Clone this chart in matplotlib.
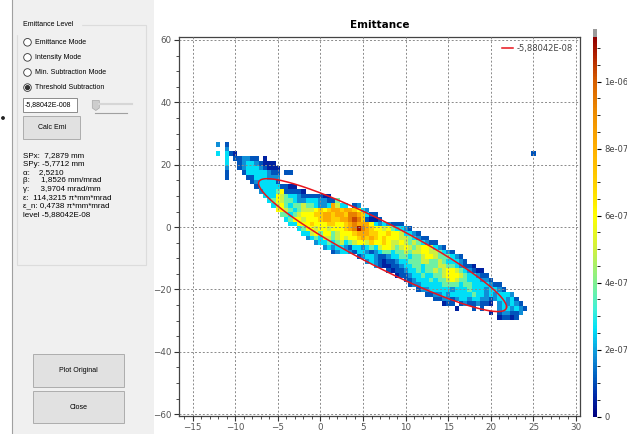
import numpy as np
import matplotlib.pyplot as plt
from matplotlib.colors import LinearSegmentedColormap
from matplotlib.patches import Rectangle, Circle, Polygon
from matplotlib.ticker import MultipleLocator

plt.rcParams['font.family'] = 'DejaVu Sans'

# beam parameters from the emittance fit
spx, spy = 7.2879, -5.7712
alpha, beta, gamma = 2.5210, 1.8526, 3.9704
eps, eps_n = 114.3215, 0.4738
level_text = '-5,88042E-08'

# phase space histogram, x in mm and x' in mrad
x_first, dx = -12.0, 0.5
xp_first, dxp = 26.5, 1.5
n_rows, n_cols = 39, 75

# intensity of each level character
level_values = {'0': 0.5e-7, '1': 1.1e-7, '2': 1.8e-7, '3': 2.6e-7,
                '4': 3.8e-7, '5': 5.0e-7, '6': 6.0e-7, '7': 7.0e-7,
                '8': 8.2e-7, '9': 9.3e-7, 'a': 10.3e-7, 'b': 11.0e-7}

# one entry per run of cells: row, first column, levels ('.' = empty)
row_idx = [0, 1, 2, 2, 3, 4, 5, 6, 7, 8, 9, 10, 11, 12, 13, 14, 15, 16, 17,
           18, 19, 20, 21, 22, 23, 24, 25, 26, 27, 28, 29, 30, 31, 32, 33,
           34, 35, 36, 37]
col_start = [0, 2, 0, 74, 2, 2, 2, 2, 2, 8, 9, 10, 11, 12, 13, 14, 15, 16,
             17, 19, 20, 21, 23, 25, 27, 33, 35, 37, 40, 42, 44, 45, 47, 49,
             51, 53, 56, 64, 66]
cells = [
    "2.1",
    "2",
    "3.310",
    "1",
    "3.112211.0",
    "3..123321000",
    "2..1233321000",
    "1...133333211.11",
    "1....11333222",
    "1233331",
    "1333331100",
    "23334611110",
    "3336543321111100",
    "34654432233322114",
    "356434454432238533.12",
    "6654345556767887887632",
    "44345666778878879987311",
    "3466566678877889a971001",
    "336667666776678988863232111",
    "34665665666789b987665643321",
    "3356466456667888776676653321",
    "23435545656678787676665543211",
    "23343453456657667655654543211",
    "23233213323435665456545665321",
    "12332133212344344545566554321",
    "1233211233443445665444321",
    "232101123344455445433321",
    "210011233443444554432110",
    "10112334344545665432100",
    "0112334334456665433211",
    "112333434456544333221",
    "1223333344443443333211",
    "122333332333433323321",
    "112232333334332323332",
    "11221233233221233231",
    "011.12112110.232321",
    "0...1.1...2332321",
    "0.122112",
    "01101",
]

vmax = 1.133e-6
cbar_ticks = [0, 2e-7, 4e-7, 6e-7, 8e-7, 1e-6]
cbar_labels = ['0', '2e-07', '4e-07', '6e-07', '8e-07', '1e-06']

# colour scale nodes, values in units of 1e-7
cmap_nodes = [(0.0, '#000080'), (0.6, '#0028a8'), (1.2, '#0060c0'),
              (1.8, '#1090d8'), (2.6, '#00e0f8'), (3.2, '#40f0d8'),
              (4.0, '#80f090'), (5.0, '#d0f040'), (6.0, '#ffff00'),
              (7.0, '#ffd000'), (8.0, '#ffb000'), (9.0, '#f09000'),
              (10.0, '#d86000'), (10.8, '#b02000'), (11.33, '#900000')]

mode_labels = ['Emittance Mode', 'Intensity Mode', 'Min. Subtraction Mode',
               'Threshold Subtraction']
selected_mode = 3


def fmt(v, nd=4):
    return f'{v:.{nd}f}'.replace('.', ',')


# build the intensity grid
grid = np.full((n_rows, n_cols), np.nan)
for r, c0, run in zip(row_idx, col_start, cells):
    for k, ch in enumerate(run):
        if ch != '.':
            grid[r, c0 + k] = level_values[ch]
x_edges = x_first - dx / 2 + dx * np.arange(n_cols + 1)
xp_edges = xp_first + dxp / 2 - dxp * np.arange(n_rows + 1)

cmap = LinearSegmentedColormap.from_list(
    'emi', [(v / cmap_nodes[-1][0], c) for v, c in cmap_nodes])
cmap.set_over('#9a9a9a')

fig = plt.figure(figsize=(6.27, 4.34), dpi=100)

# ---- control panel on the left (pixel coordinates) ----
gui = fig.add_axes([0, 0, 1, 1], zorder=0)
gui.set_xlim(0, 627)
gui.set_ylim(434, 0)
gui.axis('off')
gui.add_patch(Rectangle((12, 0), 142, 434, facecolor='#f0f0f0', edgecolor='none'))
gui.plot([12, 12], [0, 434], color='#a0a0a0', lw=0.8)
gui.add_patch(Circle((3, 118), 1.2, color='#222222'))

gui_font = 'Liberation Sans'
gui.add_patch(Rectangle((17, 25), 129, 240, facecolor='none',
                        edgecolor='#dcdcdc', lw=0.8))
gui.text(21, 25, ' Emittance Level ', fontsize=5, family=gui_font,
         va='center', ha='left', backgroundcolor='#f0f0f0')

for k, lab in enumerate(mode_labels):
    yc = 42.3 + 15.1 * k
    gui.add_patch(Circle((27.5, yc), 3.8, facecolor='white',
                         edgecolor='#333333', lw=0.6))
    if k == selected_mode:
        gui.add_patch(Circle((27.5, yc), 1.9, color='#333333'))
    gui.text(35, yc, lab, fontsize=5, family=gui_font, va='center')

# threshold text box and slider
gui.add_patch(Rectangle((23.3, 97.7), 53.4, 14, facecolor='white',
                        edgecolor='#7a7a7a', lw=0.6))
gui.text(24.5, 104.7, '-5,88042E-008', fontsize=5, family=gui_font, va='center')
gui.plot([99, 131.7], [104, 104], color='#d6d6d6', lw=1.5)
gui.plot([95, 126.7], [113.3, 113.3], color='#a0a0a0', lw=0.8)
gui.add_patch(Polygon([(92.3, 100.5), (99.3, 100.5), (99.3, 108),
                       (95.8, 110.5), (92.3, 108)], closed=True,
                      facecolor='#cdcdcd', edgecolor='#a8a8a8', lw=0.5))

buttons = [((23.3, 116, 56.7, 23.3), 'Calc Emi'),
           ((33.3, 354, 90.7, 32.7), 'Plot Original'),
           ((33.3, 390.7, 90.7, 32.7), 'Close')]
for (bx, by, bw, bh), lab in buttons:
    gui.add_patch(Rectangle((bx, by), bw, bh, facecolor='#e1e1e1',
                            edgecolor='#adadad', lw=0.7))
    gui.text(bx + bw / 2, by + bh / 2, lab, fontsize=5, family=gui_font,
             ha='center', va='center')

# fit results, one line each
stat_lines = ['SPx:  ' + fmt(spx) + ' mm',
              'SPy: ' + fmt(spy) + ' mm',
              'α:    ' + fmt(alpha),
              'β:     ' + fmt(beta) + ' mm/mrad',
              'γ:     ' + fmt(gamma) + ' mrad/mm',
              'ε:  ' + fmt(eps) + ' π*mm*mrad',
              'ε_n: ' + fmt(eps_n) + ' π*mm*mrad',
              'level ' + level_text]
for k, line in enumerate(stat_lines):
    gui.text(22.7, 155.7 + 8.35 * k, line, fontsize=5.8, family=gui_font,
             va='center')

# ---- emittance plot ----
ax = fig.add_axes([179 / 627, 1 - 415.5 / 434, 401 / 627, 378.8 / 434], zorder=1)
mesh = ax.pcolormesh(x_edges, xp_edges, np.ma.masked_invalid(grid),
                     cmap=cmap, vmin=0, vmax=vmax, zorder=1)

t = np.linspace(0, 2 * np.pi, 400)
ell_x = spx + np.sqrt(eps * beta) * np.cos(t)
ell_xp = spy - np.sqrt(eps / beta) * (alpha * np.cos(t) + np.sin(t))
ax.plot(ell_x, ell_xp, color='#e8141c', lw=1.1, label=level_text, zorder=3)

ax.set_xlim(-16.6, 30.46)
ax.set_ylim(-60.4, 61.05)
ax.xaxis.set_major_locator(MultipleLocator(5))
ax.xaxis.set_minor_locator(MultipleLocator(1))
ax.yaxis.set_major_locator(MultipleLocator(20))
ax.yaxis.set_minor_locator(MultipleLocator(5))
ax.set_axisbelow(False)
ax.grid(True, which='major', linestyle=(0, (2, 2)), color='#8a8a8a', lw=0.7)
ax.tick_params(which='major', length=3.5, width=0.8, color='#333333',
               labelsize=6.3, labelcolor='#555555', pad=2)
ax.tick_params(which='minor', length=2, width=0.6, color='#333333')
for sp in ax.spines.values():
    sp.set_color('#444444')
    sp.set_linewidth(0.9)
ax.set_title('Emittance', fontsize=7.5, fontweight='bold', pad=6)
ax.legend(loc='upper right', bbox_to_anchor=(0.995, 0.995), frameon=False,
          fontsize=6, handlelength=1.3, handletextpad=0.5, borderaxespad=0.2,
          labelcolor='#444444')

# colour bar with grey over-range cap
cax = fig.add_axes([593.3 / 627, 1 - 416.7 / 434, 4 / 627, 387.4 / 434])
cb = fig.colorbar(mesh, cax=cax, extend='max', extendrect=True,
                  extendfrac=0.0205)
cb.outline.set_visible(False)
cb.set_ticks(cbar_ticks)
cb.set_ticklabels(cbar_labels)
cb.ax.yaxis.set_minor_locator(MultipleLocator(5e-8))
cb.ax.tick_params(which='major', length=3, width=0.8, labelsize=6,
                  labelcolor='#444444', pad=2)
cb.ax.tick_params(which='minor', length=1.8, width=0.6)

fig.savefig('out.png', dpi=100)
